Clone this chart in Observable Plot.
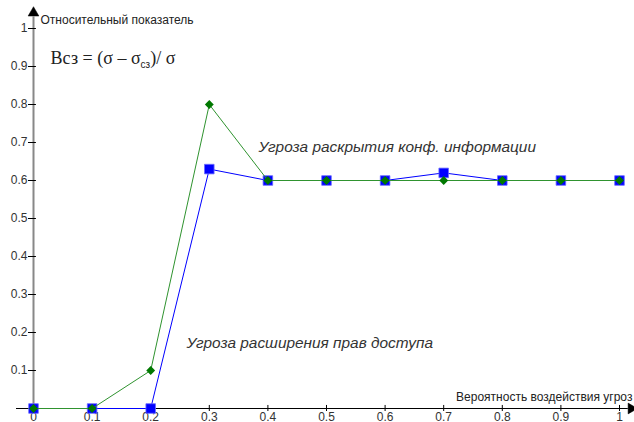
<!DOCTYPE html>
<html><head><meta charset="utf-8">
<script src="https://cdn.jsdelivr.net/npm/d3@7"></script>
<script src="https://cdn.jsdelivr.net/npm/@observablehq/plot@0.6"></script>
<style>body{margin:0;background:#fff;overflow:hidden}</style>
</head><body><div id="chart"></div>
<script>
const xValues = [0, 0.1, 0.2, 0.3, 0.4, 0.5, 0.6, 0.7, 0.8, 0.9, 1];
const blueValues = [0, 0, 0, 0.63, 0.6, 0.6, 0.6, 0.62, 0.6, 0.6, 0.6];
const greenValues = [0, 0, 0.1, 0.8, 0.6, 0.6, 0.6, 0.6, 0.6, 0.6, 0.6];
const xTicks = [0, 0.1, 0.2, 0.3, 0.4, 0.5, 0.6, 0.7, 0.8, 0.9, 1];
const xTickLabels = ["0", "0.1", "0.2", "0.3", "0.4", "0.5", "0.6", "0.7", "0.8", "0.9", "1"];
const yTicks = [0.1, 0.2, 0.3, 0.4, 0.5, 0.6, 0.7, 0.8, 0.9, 1];
const yTickLabels = ["0.1", "0.2", "0.3", "0.4", "0.5", "0.6", "0.7", "0.8", "0.9", "1"];
const yAxisTitle = "Относительный показатель";
const xAxisTitle = "Вероятность воздействия угроз";
const annotationX = [0.384, 0.261];
const annotationY = [0.687, 0.171];
const annotationText = ["Угроза раскрытия конф. информации", "Угроза расширения прав доступа"];
const formulaParts = ["Всз = (σ – σ", "сз", ")/ σ"];
const formulaX = 0.029;
const formulaY = 0.921;

const blue = xValues.map((x, i) => ({x, y: blueValues[i]}));
const green = xValues.map((x, i) => ({x, y: greenValues[i]}));
const annotations = annotationText.map((t, i) => ({x: annotationX[i], y: annotationY[i], text: t}));
const xLabel = d => xTickLabels[xTicks.indexOf(d)];
const yLabel = d => yTickLabels[yTicks.indexOf(d)];

const chart = Plot.plot({
  width: 634,
  height: 422,
  marginLeft: 33,
  marginRight: 15,
  marginTop: 28,
  marginBottom: 14,
  style: {fontFamily: "'Liberation Sans', Arial, sans-serif", fontSize: "12px", background: "#fff", overflow: "visible"},
  x: {domain: [0, 1], label: null},
  y: {domain: [0, 1], label: null},
  marks: [
    Plot.ruleY([0], {x1: -0.029, x2: 1.015, stroke: "#000", strokeWidth: 1}),
    Plot.ruleX([0], {y1: -0.005, y2: 1.03, stroke: "#888", strokeWidth: 2}),
    Plot.dot([{x: 0, y: 1.041}], {x: "x", y: "y", symbol: "triangle", r: 4, fill: "#000", stroke: "#000", strokeWidth: 0.5}),
    Plot.dot([{x: 1.02, y: 0}], {x: "x", y: "y", symbol: "triangle", rotate: 90, r: 4, fill: "#000", stroke: "#000", strokeWidth: 0.5}),
    Plot.ruleX(xTicks.slice(1), {x: d => d, y1: 0, y2: 0.008, stroke: "#000"}),
    Plot.ruleY(yTicks, {y: d => d, x1: 0, x2: 0.005, stroke: "#000"}),
    Plot.axisX(xTicks, {tickSize: 3, tickPadding: 1, tickFormat: xLabel, fill: "#333", fontSize: 12, label: null}),
    Plot.axisY(yTicks, {tickSize: 5, tickPadding: 1, tickFormat: yLabel, fill: "#333", fontSize: 12, label: null}),
    Plot.text([yAxisTitle], {x: () => 0, y: () => 1.023, text: d => d, dx: 7, textAnchor: "start", fill: "#222", fontSize: 12}),
    Plot.text([xAxisTitle], {x: () => 1.022, y: () => 0.029, text: d => d, textAnchor: "end", fill: "#222", fontSize: 12}),
    Plot.text(annotations, {x: "x", y: "y", text: "text", textAnchor: "start", fontStyle: "italic", fontSize: 15.4, fill: "#333"}),
    Plot.text([formulaParts.join("")], {x: () => formulaX, y: () => formulaY, text: d => d, textAnchor: "start", fontFamily: "'Liberation Serif', 'Times New Roman', serif", fontSize: 18, fill: "#222"}),
    Plot.line(blue, {x: "x", y: "y", stroke: "#0000ff", strokeWidth: 1}),
    Plot.dot(blue, {x: "x", y: "y", symbol: "square", r: 5.4, fill: "#0000ff", stroke: "#6a6aff", strokeWidth: 0.8}),
    Plot.line(green, {x: "x", y: "y", stroke: "#2f932f", strokeWidth: 1}),
    Plot.dot(green, {x: "x", y: "y", symbol: "diamond2", r: 4, fill: "#007800", stroke: null})
  ]
});
document.getElementById("chart").appendChild(chart);

const full = formulaParts.join("");
d3.select(chart).selectAll("text").filter(function () { return this.textContent === full; }).each(function () {
  const t = d3.select(this);
  t.text(null);
  t.append("tspan").text(formulaParts[0]);
  t.append("tspan").attr("font-size", 10).attr("font-family", "'Liberation Sans', Arial, sans-serif").attr("dy", 4).text(formulaParts[1]);
  t.append("tspan").attr("dy", -4).text(formulaParts[2]);
});
</script>
</body></html>
